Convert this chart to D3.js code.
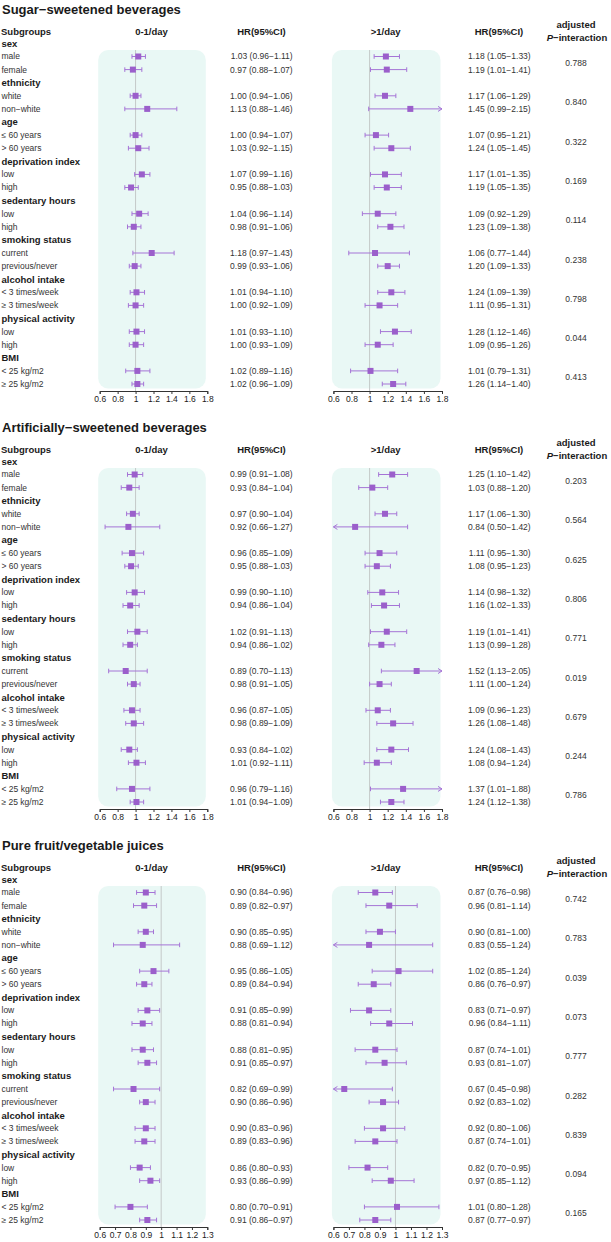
<!DOCTYPE html>
<html>
<head>
<meta charset="utf-8">
<script src="https://cdn.jsdelivr.net/npm/d3@7"></script>
<style>
  body { margin: 0; background: #fff; }
  text { font-family: "Liberation Sans", Arial, sans-serif; fill: #1a1a1a; }
</style>
</head>
<body>
<script>
'use strict';

(function() {

    var width = 611,
        height = 1242;

    // panel titles and dose columns
    var beverages = ["Sugar\u2212sweetened beverages", "Artificially\u2212sweetened beverages", "Pure fruit/vegetable juices"];
    var doses = ["0-1/day", ">1/day"];

    var subgroups = ["sex", "ethnicity", "age", "deprivation index", "sedentary hours",
                     "smoking status", "alcohol intake", "physical activity", "BMI"];
    var levels = [["male", "female"], ["white", "non\u2212white"], ["\u2264 60 years", "> 60 years"],
                  ["low", "high"], ["low", "high"], ["current", "previous/never"],
                  ["< 3 times/week", "\u2265 3 times/week"], ["low", "high"],
                  ["< 25 kg/m2", "\u2265 25 kg/m2"]];

    // [HR, lower, upper] per level row
    var ssbLow = [[1.03,0.96,1.11],[0.97,0.88,1.07],[1.00,0.94,1.06],[1.13,0.88,1.46],[1.00,0.94,1.07],[1.03,0.92,1.15],
                  [1.07,0.99,1.16],[0.95,0.88,1.03],[1.04,0.96,1.14],[0.98,0.91,1.06],[1.18,0.97,1.43],[0.99,0.93,1.06],
                  [1.01,0.94,1.10],[1.00,0.92,1.09],[1.01,0.93,1.10],[1.00,0.93,1.09],[1.02,0.89,1.16],[1.02,0.96,1.09]];
    var ssbHigh = [[1.18,1.05,1.33],[1.19,1.01,1.41],[1.17,1.06,1.29],[1.45,0.99,2.15],[1.07,0.95,1.21],[1.24,1.05,1.45],
                   [1.17,1.01,1.35],[1.19,1.05,1.35],[1.09,0.92,1.29],[1.23,1.09,1.38],[1.06,0.77,1.44],[1.20,1.09,1.33],
                   [1.24,1.09,1.39],[1.11,0.95,1.31],[1.28,1.12,1.46],[1.09,0.95,1.26],[1.01,0.79,1.31],[1.26,1.14,1.40]];
    var ssbP = ["0.788", "0.840", "0.322", "0.169", "0.114", "0.238", "0.798", "0.044", "0.413"];

    var asbLow = [[0.99,0.91,1.08],[0.93,0.84,1.04],[0.97,0.90,1.04],[0.92,0.66,1.27],[0.96,0.85,1.09],[0.95,0.88,1.03],
                  [0.99,0.90,1.10],[0.94,0.86,1.04],[1.02,0.91,1.13],[0.94,0.86,1.02],[0.89,0.70,1.13],[0.98,0.91,1.05],
                  [0.96,0.87,1.05],[0.98,0.89,1.09],[0.93,0.84,1.02],[1.01,0.92,1.11],[0.96,0.79,1.16],[1.01,0.94,1.09]];
    var asbHigh = [[1.25,1.10,1.42],[1.03,0.88,1.20],[1.17,1.06,1.30],[0.84,0.50,1.42],[1.11,0.95,1.30],[1.08,0.95,1.23],
                   [1.14,0.98,1.32],[1.16,1.02,1.33],[1.19,1.01,1.41],[1.13,0.99,1.28],[1.52,1.13,2.05],[1.11,1.00,1.24],
                   [1.09,0.96,1.23],[1.26,1.08,1.48],[1.24,1.08,1.43],[1.08,0.94,1.24],[1.37,1.01,1.88],[1.24,1.12,1.38]];
    var asbP = ["0.203", "0.564", "0.625", "0.806", "0.771", "0.019", "0.679", "0.244", "0.786"];

    var juiceLow = [[0.90,0.84,0.96],[0.89,0.82,0.97],[0.90,0.85,0.95],[0.88,0.69,1.12],[0.95,0.86,1.05],[0.89,0.84,0.94],
                    [0.91,0.85,0.99],[0.88,0.81,0.94],[0.88,0.81,0.95],[0.91,0.85,0.97],[0.82,0.69,0.99],[0.90,0.86,0.96],
                    [0.90,0.83,0.96],[0.89,0.83,0.96],[0.86,0.80,0.93],[0.93,0.86,0.99],[0.80,0.70,0.91],[0.91,0.86,0.97]];
    var juiceHigh = [[0.87,0.76,0.98],[0.96,0.81,1.14],[0.90,0.81,1.00],[0.83,0.55,1.24],[1.02,0.85,1.24],[0.86,0.76,0.97],
                     [0.83,0.71,0.97],[0.96,0.84,1.11],[0.87,0.74,1.01],[0.93,0.81,1.07],[0.67,0.45,0.98],[0.92,0.83,1.02],
                     [0.92,0.80,1.06],[0.87,0.74,1.01],[0.82,0.70,0.95],[0.97,0.85,1.12],[1.01,0.80,1.28],[0.87,0.77,0.97]];
    var juiceP = ["0.742", "0.783", "0.039", "0.073", "0.777", "0.282", "0.839", "0.094", "0.165"];

    var sweetTicks = [0.6, 0.8, 1, 1.2, 1.4, 1.6, 1.8];
    var juiceTicks = [0.6, 0.7, 0.8, 0.9, 1, 1.1, 1.2, 1.3];

    var panels = [
        { title: beverages[0], est: [ssbLow, ssbHigh], p: ssbP, ticks: sweetTicks },
        { title: beverages[1], est: [asbLow, asbHigh], p: asbP, ticks: sweetTicks },
        { title: beverages[2], est: [juiceLow, juiceHigh], p: juiceP, ticks: juiceTicks }
    ];

    var panelStep = 418;
    var plotRanges = [[99.7, 207.3], [333.4, 442]];
    var hrEnds = [292.7, 530.7];
    var hrCenters = [261.5, 499];
    var pCenter = 576;
    var boxColor = "#9b5fcb",
        lineColor = "#a574d6",
        bgColor = "#e9f8f5";

    var y = d3.scaleLinear().domain([0, 26]).range([43.4, 43.4 + 26 * 13.1]);
    var fmt = d3.format(".2f");

    var svg = d3.select("body").append("svg")
        .attr("width", width)
        .attr("height", height);

    svg.append("rect").attr("width", width).attr("height", height).attr("fill", "#fff");

    panels.forEach(function(panel, k) {
        var g = svg.append("g").attr("transform", "translate(0," + (k * panelStep) + ")");

        g.append("text")
            .attr("x", 2).attr("y", 9.3).attr("dy", "0.35em")
            .style("font-size", "13px").style("font-weight", "bold")
            .text(panel.title);

        // column headers
        var head = g.append("g").style("font-size", "9.5px").style("font-weight", "bold");
        head.append("text").attr("x", 1).attr("y", 31.7).attr("dy", "0.35em").text("Subgroups");
        doses.forEach(function(dose, d) {
            head.append("text").attr("x", (plotRanges[d][0] + plotRanges[d][1]) / 2 - 2).attr("y", 31.7)
                .attr("dy", "0.35em").attr("text-anchor", "middle").text(dose);
            head.append("text").attr("x", hrCenters[d]).attr("y", 31.7)
                .attr("dy", "0.35em").attr("text-anchor", "middle").text("HR(95%CI)");
        });
        head.append("text").attr("x", pCenter).attr("y", 25).attr("dy", "0.35em")
            .attr("text-anchor", "middle").text("adjusted");
        var pt = head.append("text").attr("x", pCenter + 1).attr("y", 37.5).attr("dy", "0.35em")
            .attr("text-anchor", "middle");
        pt.append("tspan").style("font-style", "italic").text("P");
        pt.append("tspan").text("\u2212interaction");

        // row labels
        subgroups.forEach(function(name, j) {
            g.append("text").attr("x", 1.5).attr("y", y(3 * j)).attr("dy", "0.35em")
                .style("font-size", "9.5px").style("font-weight", "bold").text(name);
            levels[j].forEach(function(lv, m) {
                g.append("text").attr("x", 1.5).attr("y", y(3 * j + 1 + m)).attr("dy", "0.35em")
                    .style("font-size", "8.5px").style("fill", "#333").text(lv);
            });
            g.append("text").attr("x", pCenter).attr("y", y(3 * j + 1.5)).attr("dy", "0.35em")
                .attr("text-anchor", "middle").style("font-size", "8.5px").style("fill", "#333")
                .text(panel.p[j]);
        });

        var rowY = function(i) { return y(3 * Math.floor(i / 2) + 1 + (i % 2)); };
        var top = y(1) - 6.5,
            bottom = y(26) + 4.5,
            axisY = y(26) + 7;

        doses.forEach(function(dose, d) {
            var dom = [panel.ticks[0], panel.ticks[panel.ticks.length - 1]];
            var x = d3.scaleLinear().domain(dom).range(plotRanges[d]);
            var plot = g.append("g");

            plot.append("rect")
                .attr("x", x(dom[0]) - 1.5).attr("y", top)
                .attr("width", x(dom[1]) - x(dom[0])).attr("height", bottom - top)
                .attr("rx", 10).attr("fill", bgColor);

            plot.append("line")
                .attr("x1", x(1)).attr("x2", x(1)).attr("y1", top).attr("y2", axisY)
                .attr("stroke", "#c4c9c8").attr("stroke-width", 1);

            var rows = plot.selectAll(".est")
                .data(panel.est[d])
                .enter()
                .append("g")
                .attr("class", "est")
                .attr("transform", function(v, i) { return "translate(0," + rowY(i) + ")"; });

            rows.append("line")
                .attr("x1", function(v) { return x(Math.max(v[1], dom[0])); })
                .attr("x2", function(v) { return x(Math.min(v[2], dom[1])); })
                .attr("stroke", lineColor).attr("stroke-width", 1);

            // caps or arrows at each end
            rows.append("path")
                .attr("d", function(v) {
                    var x0 = x(dom[0]);
                    return v[1] < dom[0]
                        ? "M" + (x0 + 4) + ",-2.5L" + x0 + ",0L" + (x0 + 4) + ",2.5"
                        : "M" + x(v[1]) + ",-2.3V2.3";
                })
                .attr("fill", "none").attr("stroke", lineColor).attr("stroke-width", 1);
            rows.append("path")
                .attr("d", function(v) {
                    var x1 = x(dom[1]);
                    return v[2] > dom[1]
                        ? "M" + (x1 - 4) + ",-2.5L" + x1 + ",0L" + (x1 - 4) + ",2.5"
                        : "M" + x(v[2]) + ",-2.3V2.3";
                })
                .attr("fill", "none").attr("stroke", lineColor).attr("stroke-width", 1);

            rows.append("rect")
                .attr("x", function(v) { return x(v[0]) - 3; })
                .attr("y", -3).attr("width", 6).attr("height", 6)
                .attr("fill", boxColor);

            // HR text column
            g.selectAll(".hr" + d)
                .data(panel.est[d])
                .enter()
                .append("text")
                .attr("class", "hr" + d)
                .attr("x", hrEnds[d]).attr("y", function(v, i) { return rowY(i); })
                .attr("dy", "0.35em").attr("text-anchor", "end")
                .style("font-size", "8.5px").style("fill", "#333")
                .text(function(v) { return fmt(v[0]) + " (" + fmt(v[1]) + "\u2212" + fmt(v[2]) + ")"; });

            var axis = plot.append("g")
                .attr("transform", "translate(0," + axisY + ")")
                .call(d3.axisBottom(x)
                    .tickValues(panel.ticks)
                    .tickFormat(function(t) { return String(+t.toFixed(1)); })
                    .tickSize(3)
                    .tickSizeOuter(3)
                    .tickPadding(2));
            axis.select(".domain").attr("stroke", "#333");
            axis.selectAll(".tick line").attr("stroke", "#333");
            axis.selectAll(".tick text")
                .style("font-family", "'Liberation Sans', Arial, sans-serif")
                .style("font-size", "8.5px").attr("fill", "#222");
        });
    });
})();
</script>
</body>
</html>
